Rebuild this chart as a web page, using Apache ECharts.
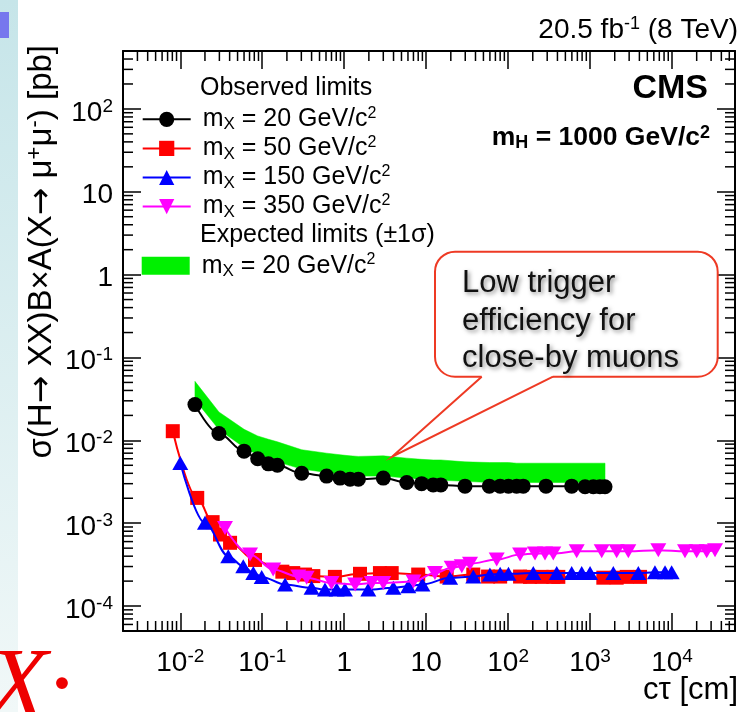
<!DOCTYPE html>
<html><head><meta charset="utf-8">
<script src="https://cdn.jsdelivr.net/npm/echarts@6.0.0/dist/echarts.min.js"></script>
<style>html,body{margin:0;padding:0;background:#fff}#c{width:745px;height:712px}</style>
</head><body><div id="c"></div>
<script>
// ---- data ----
const x20 = [0.0151, 0.0296, 0.060, 0.088, 0.119, 0.153, 0.303, 0.61, 0.89, 1.18, 1.49, 3.0, 5.8, 8.8, 12.2, 15.1, 29.8, 59, 80, 101, 127, 153, 290, 597, 869, 1096, 1321, 1523];
const y20 = [0.0270, 0.0121, 0.0074, 0.0060, 0.0052, 0.0050, 0.0040, 0.0037, 0.0035, 0.0034, 0.0034, 0.0035, 0.0031, 0.0030, 0.0029, 0.0029, 0.0028, 0.0028, 0.0028, 0.0028, 0.0028, 0.0028, 0.0028, 0.0028, 0.00275, 0.00275, 0.00275, 0.00275];
const expLow20  = [0.031, 0.0135, 0.0082, 0.0067, 0.0059, 0.0055, 0.0045, 0.0041, 0.0039, 0.0038, 0.0037, 0.0037, 0.0035, 0.0034, 0.0033, 0.0033, 0.0032, 0.0031, 0.0031, 0.0031, 0.0031, 0.0031, 0.0031, 0.0031, 0.0031, 0.0031, 0.0031, 0.0031];
const expHigh20 = [0.0515, 0.0220, 0.0136, 0.0113, 0.0103, 0.0096, 0.0077, 0.0070, 0.0067, 0.0065, 0.0064, 0.0065, 0.0061, 0.0059, 0.0058, 0.0058, 0.0055, 0.0054, 0.0054, 0.0054, 0.0053, 0.0053, 0.0053, 0.0053, 0.0053, 0.0053, 0.0053, 0.0053];
const x50 = [0.0081, 0.0161, 0.0248, 0.0305, 0.0405, 0.0816, 0.176, 0.239, 0.333, 0.42, 0.77, 1.56, 2.73, 3.8, 8.0, 17.8, 37.6, 57, 80, 140, 185, 257, 356, 410, 1452, 2113, 2800, 4074];
const y50 = [0.0129, 0.00202, 0.00103, 0.00073, 0.00058, 0.00036, 0.00026, 0.00025, 0.00024, 0.00023, 0.000225, 0.000245, 0.00025, 0.00025, 0.00024, 0.000227, 0.00024, 0.000227, 0.000227, 0.000227, 0.000225, 0.000225, 0.000225, 0.000225, 0.00022, 0.00022, 0.000225, 0.000225];
const x150 = [0.0100, 0.0200, 0.0385, 0.0587, 0.0778, 0.0985, 0.190, 0.40, 0.583, 0.81, 1.02, 1.97, 3.98, 6.05, 9.0, 19.6, 37.6, 60, 80, 101, 203, 392, 597, 791, 1000, 1923, 3881, 6194, 8222, 9900];
const y150 = [0.00533, 0.00101, 0.00040, 0.000302, 0.000251, 0.000225, 0.000182, 0.000166, 0.000158, 0.000158, 0.000158, 0.000158, 0.000166, 0.000174, 0.000182, 0.000219, 0.000227, 0.00024, 0.000245, 0.000245, 0.000251, 0.000251, 0.000251, 0.000251, 0.000251, 0.000251, 0.000251, 0.000255, 0.000255, 0.000255];
const x350 = [0.0351, 0.071, 0.136, 0.275, 0.348, 0.70, 1.36, 2.17, 3.0, 7.0, 12.8, 20.5, 27.2, 34.3, 72.6, 140, 213, 282, 356, 687, 1387, 2113, 2931, 6808, 14400, 20000, 26500, 33500];
const y350 = [0.000877, 0.000418, 0.000276, 0.000227, 0.000219, 0.00019, 0.000182, 0.00019, 0.00019, 0.000198, 0.000251, 0.000289, 0.000302, 0.000325, 0.000364, 0.000418, 0.00043, 0.00043, 0.00043, 0.000458, 0.000458, 0.000458, 0.000458, 0.000471, 0.000458, 0.000458, 0.000458, 0.000471];
const legendNames = {
  m20: ' m{sub|X} = 20 GeV/c{sup|2}',
  m50: ' m{sub|X} = 50 GeV/c{sup|2}',
  m150: ' m{sub|X} = 150 GeV/c{sup|2}',
  m350: ' m{sub|X} = 350 GeV/c{sup|2}',
  band: ' m{sub|X} = 20 GeV/c{sup|2}'
};
const calloutTip = [3.83, 0.00635];
const xMin = 0.002, xMax = 58700, yMin = 5e-5, yMax = 500;

// ---- layout / style ----
const F = '"Liberation Sans", Arial, Helvetica, sans-serif';
const GREEN = '#00f000';
const G = {left: 123, right: 735, top: 51, bottom: 631};

function powLabel(v) {
  const l = Math.log10(v), e = Math.round(l);
  if (Math.abs(l - e) > 1e-6) return '';
  if (e === 0) return '{b|1}';
  if (e === 1) return '{b|10}';
  return '{b|10}{s|' + e + '}';
}
const labRich = {
  b: {fontSize: 28, fontFamily: F, color: '#000', lineHeight: 30, verticalAlign: 'bottom'},
  s: {fontSize: 19, fontFamily: F, color: '#000', lineHeight: 10, verticalAlign: 'top'}
};
const legRich = {
  sub: {fontSize: 17, fontFamily: F, color: '#000', lineHeight: 12, verticalAlign: 'bottom'},
  sup: {fontSize: 16, fontFamily: F, color: '#000', lineHeight: 17, verticalAlign: 'top'}
};
const axLine = {show: true, lineStyle: {color: '#000', width: 2}};
const axTick = {show: true, inside: true, length: 18, lineStyle: {color: '#000', width: 1.5}};

function xAx(pos, showLab) {
  return {type: 'log', logBase: 10, min: xMin, max: xMax, position: pos,
    axisLine: axLine, axisTick: axTick, splitLine: {show: false},
    axisLabel: {show: showLab, formatter: powLabel, margin: 16, rich: labRich, color: '#000'}};
}
function yAx(pos, showLab) {
  return {type: 'log', logBase: 10, min: yMin, max: yMax, position: pos,
    axisLine: axLine, axisTick: axTick, splitLine: {show: false},
    axisLabel: {show: showLab, formatter: powLabel, margin: 10, padding: [6, 0, 0, 0], rich: labRich, color: '#000'}};
}
function pts(xs, ys) { return xs.map((x, i) => [x, ys[i]]); }
function lineSeries(name, xs, ys, color, symbol, size, z) {
  return {type: 'line', name, data: pts(xs, ys), symbol, symbolSize: size,
    smooth: 0.35, smoothMonotone: 'x', z,
    lineStyle: {color, width: 2}, itemStyle: {color, opacity: 1}, silent: true, clip: false};
}

const chart = echarts.init(document.getElementById('c'), null, {renderer: 'canvas'});
chart.setOption({
  animation: false,
  backgroundColor: '#fff',
  grid: {left: G.left, top: G.top, right: 745 - G.right, bottom: 712 - G.bottom, containLabel: false},
  xAxis: [xAx('bottom', true), xAx('top', false)],
  yAxis: [yAx('left', true), yAx('right', false)],
  legend: [
    {orient: 'vertical', left: 141.7, top: 105.3, padding: 0, itemGap: 1.1, itemWidth: 48, itemHeight: 19,
     selectedMode: false, data: ['m20', 'm50', 'm150', 'm350'],
     formatter: n => legendNames[n],
     textStyle: {fontSize: 25, fontFamily: F, color: '#000', lineHeight: 28, rich: legRich}},
    {orient: 'vertical', left: 141.7, top: 251.8, padding: 0, itemWidth: 48, itemHeight: 18,
     selectedMode: false, data: [{name: 'band', icon: 'rect'}],
     formatter: n => legendNames[n],
     textStyle: {fontSize: 25, fontFamily: F, color: '#000', lineHeight: 28, rich: legRich}}
  ],
  series: [
    {type: 'custom', name: 'band', coordinateSystem: 'cartesian2d', z: 1, silent: true,
     itemStyle: {color: GREEN},
     data: x20.map((x, i) => [x, expLow20[i], expHigh20[i]]),
     encode: {x: 0, y: [1, 2]},
     renderItem: (params, api) => {
       if (params.dataIndex !== 0) return null;
       const p = [];
       for (let i = 0; i < x20.length; i++) p.push(api.coord([x20[i], expHigh20[i]]));
       for (let i = x20.length - 1; i >= 0; i--) p.push(api.coord([x20[i], expLow20[i]]));
       return {type: 'polygon', shape: {points: p}, style: {fill: GREEN, stroke: GREEN, lineWidth: 0.5}};
     }},
    lineSeries('m50', x50, y50, '#ff0000', 'rect', 14, 3),
    lineSeries('m150', x150, y150, '#0000ff', 'triangle', [16, 14], 4),
    lineSeries('m350', x350, y350, '#ff00ff', 'path://M0,0L10,0L5,10Z', [16, 14], 5),
    lineSeries('m20', x20, y20, '#000000', 'circle', 15, 6)
  ]
});

// ---- decorations computed through the axes ----
const els = [];
// slide remnants
els.push({type: 'rect', z: 0, shape: {x: 0, y: 0, width: 18, height: 712},
  style: {fill: {type: 'linear', x: 0, y: 0, x2: 0, y2: 1, colorStops: [{offset: 0, color: '#c6e5e9'}, {offset: 1, color: '#f1f8f8'}]}}});
els.push({type: 'rect', z: 0, shape: {x: 0, y: 12, width: 9, height: 26}, style: {fill: '#7777ee'}});
els.push({type: 'text', z: 20, x: -13, y: 690, style: {text: 'X·', fontSize: 100, fontFamily: '"Liberation Serif", "DejaVu Serif", serif', fontStyle: 'italic', fill: '#ee0000', verticalAlign: 'middle', align: 'left'}});

// minor ticks
const mt = {stroke: '#000', lineWidth: 1.5};
for (let e = -4; e <= 4; e++) for (let m = 2; m <= 9; m++) {
  const v = m * Math.pow(10, e);
  if (v > xMin * 1.001 && v < xMax * 0.999) {
    const px = chart.convertToPixel({xAxisIndex: 0}, v);
    els.push({type: 'line', z: 5, shape: {x1: px, y1: G.bottom, x2: px, y2: G.bottom - 10}, style: mt});
    els.push({type: 'line', z: 5, shape: {x1: px, y1: G.top, x2: px, y2: G.top + 10}, style: mt});
  }
}
for (let e = -6; e <= 3; e++) for (let m = 2; m <= 9; m++) {
  const v = m * Math.pow(10, e);
  if (v > yMin * 1.001 && v < yMax * 0.999) {
    const py = chart.convertToPixel({yAxisIndex: 0}, v);
    els.push({type: 'line', z: 5, shape: {x1: G.left, y1: py, x2: G.left + 10, y2: py}, style: mt});
    els.push({type: 'line', z: 5, shape: {x1: G.right, y1: py, x2: G.right - 10, y2: py}, style: mt});
  }
}
// texts
els.push({type: 'text', z: 10, x: 738, y: 30, style: {text: '20.5 fb{sup|-1} (8 TeV)', align: 'right', verticalAlign: 'middle',
  fontSize: 28, fontFamily: F, fill: '#000', lineHeight: 30,
  rich: {sup: {fontSize: 18, fontFamily: F, fill: '#000', lineHeight: 14, verticalAlign: 'top'}}}});
els.push({type: 'text', z: 10, x: 708, y: 89, style: {text: 'CMS', align: 'right', verticalAlign: 'middle', fontSize: 34, fontWeight: 'bold', fontFamily: F, fill: '#000'}});
els.push({type: 'text', z: 10, x: 710, y: 138, style: {text: 'm{sub|H} = 1000 GeV/c{sup|2}', align: 'right', verticalAlign: 'middle',
  fontSize: 26.5, fontWeight: 'bold', fontFamily: F, fill: '#000', lineHeight: 28,
  rich: {sub: {fontSize: 18, fontWeight: 'bold', fontFamily: F, fill: '#000', lineHeight: 12, verticalAlign: 'bottom'},
         sup: {fontSize: 18, fontWeight: 'bold', fontFamily: F, fill: '#000', lineHeight: 16, verticalAlign: 'top'}}}});
els.push({type: 'text', z: 10, x: 200, y: 88.3, style: {text: 'Observed limits', align: 'left', verticalAlign: 'middle', fontSize: 25, fontFamily: F, fill: '#000'}});
els.push({type: 'text', z: 10, x: 200, y: 235, style: {text: 'Expected limits (±1σ)', align: 'left', verticalAlign: 'middle', fontSize: 25, fontFamily: F, fill: '#000'}});
els.push({type: 'text', z: 10, x: 738, y: 690, style: {text: 'cτ [cm]', align: 'right', verticalAlign: 'middle', fontSize: 31, fontFamily: F, fill: '#000'}});
els.push({type: 'text', z: 10, x: 42, y: 45, rotation: Math.PI / 2, style: {text: 'σ(H{a|→} XX)B×A(X{a|→} μ{sup|+}μ{sup|-}) [pb]', align: 'right', verticalAlign: 'middle',
  fontSize: 33, fontFamily: F, fill: '#000', lineHeight: 36,
  rich: {sup: {fontSize: 22, fontFamily: F, fill: '#000', lineHeight: 12, verticalAlign: 'top'},
         a: {fontSize: 33, fontFamily: '"DejaVu Sans", sans-serif', fill: '#000', lineHeight: 36}}}});
// callout
const tip = chart.convertToPixel({gridIndex: 0}, calloutTip);
const bx0 = 435, by0 = 251.7, bx1 = 717.7, by1 = 376.7, o0 = 481.7, o1 = 553;
const RED = '#ee3a24';
els.push({type: 'rect', z: 12, shape: {x: bx0, y: by0, width: bx1 - bx0, height: by1 - by0, r: 20}, style: {fill: '#fff', stroke: RED, lineWidth: 2}});
els.push({type: 'polygon', z: 13, shape: {points: [[o0, by1 - 3], [o0, by1], tip, [o1, by1], [o1, by1 - 3]]}, style: {fill: '#fff'}});
els.push({type: 'polyline', z: 14, shape: {points: [[o0, by1], tip, [o1, by1]]}, style: {stroke: RED, lineWidth: 2, fill: null}});
els.push({type: 'text', z: 15, x: 462, y: 265, style: {text: 'Low trigger\nefficiency for\nclose-by muons', align: 'left', verticalAlign: 'top',
  fontSize: 31, lineHeight: 37.5, fontFamily: F, fill: '#111',
  textShadowColor: 'rgba(0,0,0,0.45)', textShadowBlur: 4, textShadowOffsetX: 2, textShadowOffsetY: 2}});

chart.setOption({graphic: {elements: els}});
</script></body></html>
